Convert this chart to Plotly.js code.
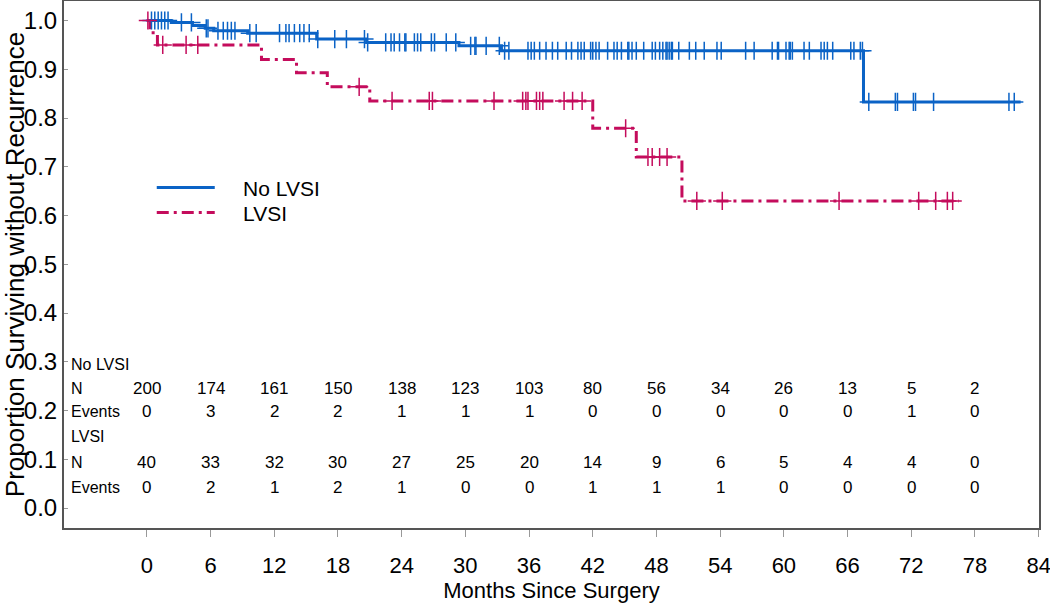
<!DOCTYPE html>
<html>
<head>
<meta charset="utf-8">
<script src="https://cdn.plot.ly/plotly-3.0.1.min.js"></script>
<style>html,body{margin:0;padding:0;background:#fff;}#chart{width:1050px;height:603px;}</style>
</head>
<body>
<div id="chart"></div>
<script>
// ---- data ----
const noLvsiTimes = [0, 2.3, 4.3, 5.5, 6.3, 9.5, 16.0, 20.7, 29.4, 33.4, 67.5];
const noLvsiSurv  = [1.0, 0.996, 0.990, 0.984, 0.979, 0.974, 0.962, 0.955, 0.948, 0.938, 0.833];
const noLvsiEnd   = 82.3;
const noLvsiCensor = [0.44, 0.75, 1.07, 1.38, 1.69, 2.0, 3.26, 4.2, 5.6, 5.76, 6.7, 7.2, 7.6, 7.96, 8.3, 9.7, 10.3,
  12.5, 13.1, 13.4, 13.9, 14.4, 14.8, 15.3, 16.1, 17.7, 18.8, 20.5, 20.8, 22.5, 23.0, 23.3, 23.8, 24.3, 24.4, 25.2,
  25.5, 25.8, 26.8, 27.1, 28.2, 29.1, 30.5, 30.9, 31.0, 31.96, 33.2, 33.7, 34.1, 35.9, 36.2, 36.5, 37.0, 37.6, 38.2,
  38.7, 39.5, 40.0, 40.6, 40.9, 41.2, 41.8, 42.0, 42.3, 42.6, 43.4, 44.0, 44.3, 44.7, 45.3, 45.4, 45.7, 46.1, 46.8,
  47.6, 47.9, 48.3, 48.6, 48.9, 49.0, 49.2, 49.4, 49.5, 50.1, 51.1, 51.7, 52.5, 53.7, 54.1, 56.4, 57.2, 58.9, 59.4,
  59.5, 60.2, 60.5, 60.6, 60.8, 61.9, 62.4, 63.5, 63.8, 64.1, 64.6, 66.3, 66.6, 67.2, 67.4, 68.0, 70.5, 70.7, 72.2,
  72.4, 74.1, 81.2, 81.7];

const lvsiTimes = [0, 0.3, 1.0, 10.8, 14.1, 17.0, 21.0, 42.0, 46.1, 50.4];
const lvsiSurv  = [1.0, 0.975, 0.950, 0.920, 0.893, 0.864, 0.835, 0.779, 0.720, 0.630];
const lvsiEnd   = 76.5;
const lvsiCensor = [0.1, 1.5, 3.7, 4.8, 20.0, 23.1, 26.6, 26.9, 32.7, 35.4, 35.7, 35.9, 36.7, 37.0, 37.3, 39.3,
  40.1, 41.0, 45.1, 47.2, 47.6, 48.3, 49.0, 51.8, 54.2, 65.2, 72.7, 74.3, 75.4, 75.9];

const monthTicks = [0, 6, 12, 18, 24, 30, 36, 42, 48, 54, 60, 66, 72, 78, 84];
const yTicks = [0.0, 0.1, 0.2, 0.3, 0.4, 0.5, 0.6, 0.7, 0.8, 0.9, 1.0];
const tableTimes = [0, 6, 12, 18, 24, 30, 36, 42, 48, 54, 60, 66, 72, 78];
const noLvsiN      = [200, 174, 161, 150, 138, 123, 103, 80, 56, 34, 26, 13, 5, 2];
const noLvsiEvents = [0, 3, 2, 2, 1, 1, 1, 0, 0, 0, 0, 0, 1, 0];
const lvsiN        = [40, 33, 32, 30, 27, 25, 20, 14, 9, 6, 5, 4, 4, 0];
const lvsiEvents   = [0, 2, 1, 2, 1, 0, 0, 1, 1, 1, 0, 0, 0, 0];
const groupNames = ['No LVSI', 'LVSI'];
const rowLabels = ['N', 'Events'];

// ---- styling ----
const BLUE = '#0b63c6';
const RED = '#c40c5c';
const SANS = '"Liberation Sans", Arial, sans-serif';
const LEGEND_PAD = '&nbsp;&nbsp;&nbsp;&nbsp;';

function survAt(times, surv, t) {
  let v = surv[0];
  for (let i = 0; i < times.length; i++) { if (times[i] <= t) v = surv[i]; }
  return v;
}
function stepTrace(times, surv, end, name, color, dash, legendId) {
  return {
    x: times.concat([end]), y: surv.concat([surv[surv.length - 1]]),
    mode: 'lines', line: {shape: 'hv', color: color, width: 3, dash: dash},
    name: LEGEND_PAD + name, showlegend: true, legend: legendId, hoverinfo: 'x+y'
  };
}
function censorTrace(times, surv, cens, color) {
  return {
    x: cens, y: cens.map(t => survAt(times, surv, t)),
    mode: 'markers', marker: {symbol: 'cross-thin-open', size: 13, color: color, line: {color: color, width: 1.5}},
    showlegend: false, hoverinfo: 'x+y'
  };
}

const traces = [
  stepTrace(noLvsiTimes, noLvsiSurv, noLvsiEnd, groupNames[0], BLUE, 'solid', 'legend'),
  stepTrace(lvsiTimes, lvsiSurv, lvsiEnd, groupNames[1], RED, '12px,5px,3px,5px', 'legend2'),
  censorTrace(noLvsiTimes, noLvsiSurv, noLvsiCensor, BLUE),
  censorTrace(lvsiTimes, lvsiSurv, lvsiCensor, RED)
];

// ---- at-risk table as annotations ----
const annotations = [];
const labelX = -7.3;
const rowY = [0.295, 0.246, 0.197, 0.146, 0.094, 0.043];
const groups = [[noLvsiN, noLvsiEvents], [lvsiN, lvsiEvents]];
groups.forEach((g, gi) => {
  const base = gi * 3;
  annotations.push({x: labelX, y: rowY[base], xref: 'x', yref: 'y', text: groupNames[gi], showarrow: false,
    xanchor: 'left', yanchor: 'middle', font: {family: SANS, size: 16, color: '#000'}});
  rowLabels.forEach((lab, ri) => {
    annotations.push({x: labelX, y: rowY[base + 1 + ri], xref: 'x', yref: 'y', text: lab, showarrow: false,
      xanchor: 'left', yanchor: 'middle', font: {family: SANS, size: 16, color: '#000'}});
    g[ri].forEach((val, k) => {
      annotations.push({x: tableTimes[k], y: rowY[base + 1 + ri], xref: 'x', yref: 'y', text: String(val),
        showarrow: false, xanchor: 'center', yanchor: 'middle', font: {family: SANS, size: 17, color: '#000'}});
    });
  });
});

const legendCommon = {x: 0.09, xanchor: 'left', yanchor: 'top', bgcolor: 'rgba(0,0,0,0)',
  font: {family: SANS, size: 21, color: '#000'}, itemwidth: 58};

const layout = {
  width: 1050, height: 603,
  margin: {l: 64, r: 11, t: 1, b: 75, pad: 0},
  paper_bgcolor: '#fff', plot_bgcolor: '#fff',
  showlegend: true,
  legend: Object.assign({y: 0.6845}, legendCommon),
  legend2: Object.assign({y: 0.637}, legendCommon),
  xaxis: {
    range: [-7.8, 84.03], tickvals: monthTicks, ticktext: monthTicks.map(String),
    ticks: 'outside', ticklen: 7, tickwidth: 1, tickcolor: '#999',
    showline: true, mirror: true, linecolor: '#555', linewidth: 2,
    showgrid: false, zeroline: false, ticklabelstandoff: 10, ticklabeloverflow: 'allow',
    tickfont: {family: SANS, size: 22, color: '#000'},
    title: {text: 'Months Since Surgery', font: {family: SANS, size: 22, color: '#000'}, standoff: 3}
  },
  yaxis: {
    range: [-0.041, 1.04], tickvals: yTicks, tickformat: '.1f',
    ticks: 'inside', ticklen: 4, tickwidth: 1, tickcolor: '#999',
    showline: true, mirror: true, linecolor: '#555', linewidth: 2,
    showgrid: false, zeroline: false,
    tickfont: {family: SANS, size: 24, color: '#000'},
    title: {text: 'Proportion Surviving without Recurrence', font: {family: SANS, size: 26, color: '#000'}, standoff: 14}
  },
  annotations: annotations
};

Plotly.newPlot('chart', traces, layout, {displayModeBar: false, staticPlot: true});
</script>
</body>
</html>
